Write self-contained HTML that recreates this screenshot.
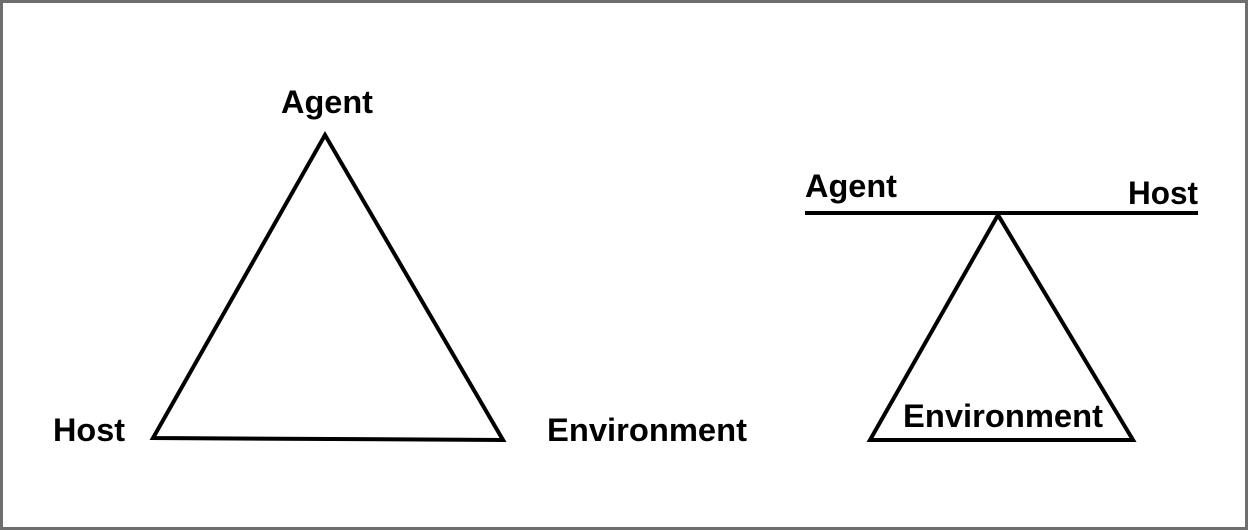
<!DOCTYPE html>
<html><head><style>html,body{margin:0;padding:0;background:#fff}</style></head>
<body>
<svg width="1248" height="530" xmlns="http://www.w3.org/2000/svg" style="display:block">
<rect x="1.5" y="1.5" width="1245" height="527" fill="#fff" stroke="#6e6e6e" stroke-width="3"/>
<g fill="none" stroke="#000" stroke-width="4" stroke-linejoin="miter">
<polygon points="325,135 153,438 503,440"/>
<line x1="805" y1="213" x2="1198" y2="213"/>
<polygon points="998,215 870,440 1133,440"/>
</g>
<g font-family="Liberation Sans, Arial, sans-serif" font-weight="bold" font-size="32" fill="#000" lengthAdjust="spacingAndGlyphs">
<text x="281" y="113" textLength="92" lengthAdjust="spacingAndGlyphs">Agent</text>
<text x="53" y="441" textLength="72" lengthAdjust="spacingAndGlyphs">Host</text>
<text x="547" y="441" textLength="200" lengthAdjust="spacingAndGlyphs">Environment</text>
<text x="805" y="197" textLength="92" lengthAdjust="spacingAndGlyphs">Agent</text>
<text x="1128" y="204" textLength="70" lengthAdjust="spacingAndGlyphs">Host</text>
<text x="903" y="427" textLength="200" lengthAdjust="spacingAndGlyphs">Environment</text>
</g>
</svg>
</body></html>
